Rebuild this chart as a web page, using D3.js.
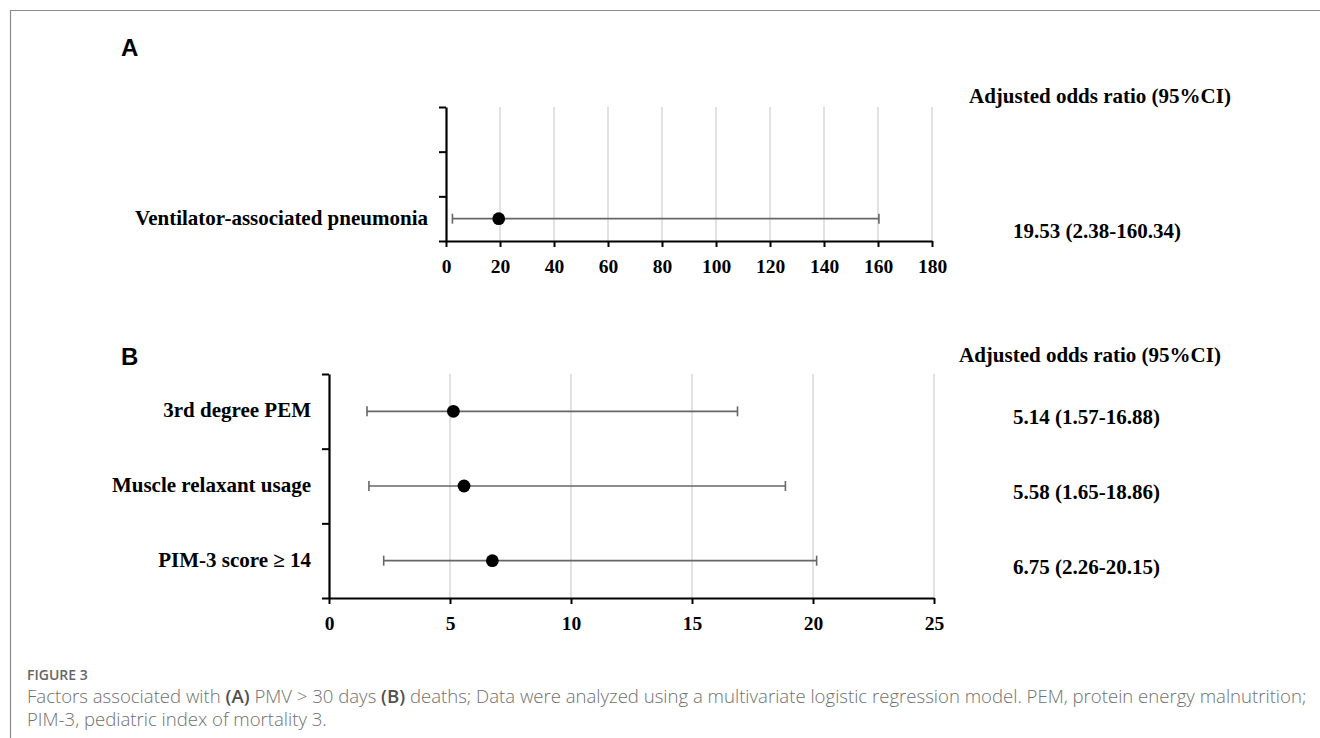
<!DOCTYPE html>
<html>
<head>
<meta charset="utf-8">
<script src="https://cdn.jsdelivr.net/npm/d3@7"></script>
<style>
  body { margin: 0; background: #fff; }
  svg { display: block; }
</style>
</head>
<body>
<svg id="chart" width="1320" height="738"></svg>
<script>
// panel A: PMV > 30 days
const categoriesA = ["Ventilator-associated pneumonia"];
const oddsA = [19.53];
const lowerA = [2.38];
const upperA = [160.34];
const ticksA = [0, 20, 40, 60, 80, 100, 120, 140, 160, 180];

// panel B: deaths
const categoriesB = ["3rd degree PEM", "Muscle relaxant usage", "PIM-3 score \u2265 14"];
const oddsB = [5.14, 5.58, 6.75];
const lowerB = [1.57, 1.65, 2.26];
const upperB = [16.88, 18.86, 20.15];
const ticksB = [0, 5, 10, 15, 20, 25];

const svg = d3.select("#chart");
const serif = "'Liberation Serif', 'Times New Roman', serif";

// frame
svg.append("path")
    .attr("d", "M10.5,738 V10.5 H1320")
    .attr("fill", "none")
    .attr("stroke", "#8c8c8c")
    .attr("stroke-width", 1.2);

function drawPanel(opt) {
    let g = svg.append("g");
    let rows = opt.slots;
    let x = d3.scaleLinear().domain([0, d3.max(opt.ticks)]).range(opt.xRange);
    let y = d3.scaleLinear().domain([0, rows]).range(opt.yRange);
    let yCenter = i => y(rows - opt.cats.length + i + 0.5);

    // grid
    g.selectAll(".grid")
        .data(opt.ticks.filter(t => t > 0))
        .enter().append("line")
        .attr("x1", d => x(d)).attr("x2", d => x(d))
        .attr("y1", opt.yRange[0]).attr("y2", opt.yRange[1])
        .attr("stroke", "#d9d9d9")
        .attr("stroke-width", 1.5);

    // x axis
    let xa = g.append("g")
        .attr("transform", `translate(0,${opt.yRange[1]})`)
        .call(d3.axisBottom(x).tickValues(opt.ticks).tickSize(6).tickSizeOuter(0).tickPadding(12));
    xa.select(".domain").attr("stroke", "#000").attr("stroke-width", 2.2);
    xa.selectAll(".tick line").attr("stroke", "#000").attr("stroke-width", 2);
    xa.selectAll(".tick text")
        .attr("fill", "#000")
        .style("font-family", serif)
        .style("font-weight", "bold")
        .style("font-size", "19.5px");

    // y axis (tick marks between rows)
    let ya = g.append("g")
        .attr("transform", `translate(${opt.xRange[0]},0)`)
        .call(d3.axisLeft(y).tickValues(d3.range(rows + 1)).tickFormat("").tickSize(7).tickSizeOuter(0));
    ya.select(".domain").attr("stroke", "#000").attr("stroke-width", 2.2);
    ya.selectAll(".tick line").attr("stroke", "#000").attr("stroke-width", 2);

    // error bars
    opt.cats.forEach((c, i) => {
        let cy = yCenter(i);
        g.append("line")
            .attr("x1", x(opt.lower[i])).attr("x2", x(opt.upper[i]))
            .attr("y1", cy).attr("y2", cy)
            .attr("stroke", "#666").attr("stroke-width", 1.6);
        [opt.lower[i], opt.upper[i]].forEach(v => {
            g.append("line")
                .attr("x1", x(v)).attr("x2", x(v))
                .attr("y1", cy - 5).attr("y2", cy + 5)
                .attr("stroke", "#666").attr("stroke-width", 1.6);
        });
        g.append("circle")
            .attr("cx", x(opt.odds[i])).attr("cy", cy)
            .attr("r", 6.4).attr("fill", "#000");

        g.append("text")
            .attr("x", opt.xRange[0] - 18)
            .attr("y", cy + 6)
            .attr("text-anchor", "end")
            .style("font-family", serif).style("font-weight", "bold").style("font-size", "21px")
            .text(c);

        g.append("text")
            .attr("x", 1013)
            .attr("y", cy + opt.valueOffset)
            .style("font-family", serif).style("font-weight", "bold").style("font-size", "21px")
            .text(`${opt.odds[i].toFixed(2)} (${opt.lower[i].toFixed(2)}-${opt.upper[i].toFixed(2)})`);
    });

    g.append("text")
        .attr("x", opt.headerX).attr("y", opt.headerY)
        .style("font-family", serif).style("font-weight", "bold").style("font-size", "21px")
        .text("Adjusted odds ratio (95%CI)");

    g.append("text")
        .attr("x", 121).attr("y", opt.letterY)
        .style("font-family", "'Liberation Sans', Arial, sans-serif")
        .style("font-weight", "bold").style("font-size", "24px")
        .text(opt.letter);
}

drawPanel({
    letter: "A", letterY: 56,
    cats: categoriesA, odds: oddsA, lower: lowerA, upper: upperA, ticks: ticksA,
    slots: 3, xRange: [446, 932], yRange: [107, 241],
    headerX: 969, headerY: 103, valueOffset: 19
});

drawPanel({
    letter: "B", letterY: 365,
    cats: categoriesB, odds: oddsB, lower: lowerB, upper: upperB, ticks: ticksB,
    slots: 3, xRange: [329, 934], yRange: [374, 598],
    headerX: 959, headerY: 362, valueOffset: 13
});

// caption
const capFont = "'Open Sans', 'Noto Sans', sans-serif";
svg.append("text")
    .attr("x", 27).attr("y", 680)
    .attr("fill", "#666")
    .style("font-family", capFont).style("font-weight", 600).style("font-size", "14px")
    .text("FIGURE 3");

let capLines = [
    ["Factors associated with ", ["(A)", true], " PMV > 30 days ", ["(B)", true], " deaths; Data were analyzed using a multivariate logistic regression model. PEM, protein energy malnutrition;"],
    ["PIM-3, pediatric index of mortality 3."]
];
let capY = [703, 726];
let capTexts = capLines.map((parts, li) => {
    let t = svg.append("text")
        .attr("x", 27).attr("y", capY[li])
        .attr("fill", "#707070")
        .style("font-family", capFont).style("font-weight", 300).style("font-size", "16px");
    parts.forEach(p => {
        let s = t.append("tspan");
        if (Array.isArray(p)) s.text(p[0]).attr("fill", "#505050").style("font-weight", 600);
        else s.text(p);
    });
    return t;
});
// fit first caption line to its width in the picture
let w = capTexts[0].node().getComputedTextLength();
let fs = 16 * 1280 / w;
capTexts.forEach(t => t.style("font-size", fs + "px"));
</script>
</body>
</html>
